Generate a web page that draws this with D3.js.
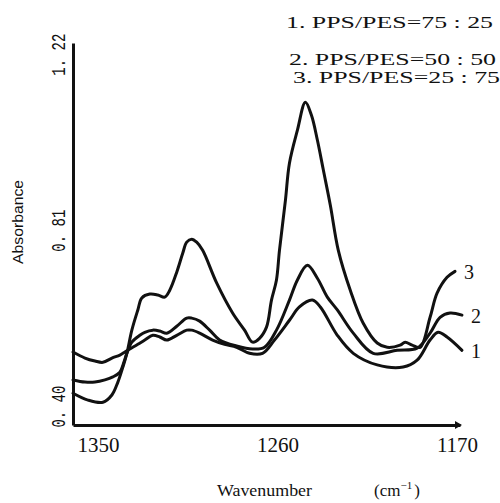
<!DOCTYPE html>
<html>
<head>
<meta charset="utf-8">
<script src="https://cdn.jsdelivr.net/npm/d3@7"></script>
<style>
  body { margin: 0; background: #fff; }
  .label { font-family: "Liberation Serif", serif; fill: #111; }
</style>
</head>
<body>
<script>
// wavenumbers (cm-1) and absorbance
var wn1 = [1362.5,1356.5,1351.5,1347.5,1343,1339,1336.5,1334,1330,1326.5,1322.5,1319,1315.5,1310.5,1305.5,1303,1299,1292.5,1286.5,1280.5,1274,1267.5,1261.5,1254,1249,1242.5,1238.5,1230,1222,1210,1197,1190,1183.5,1179.5,1175,1167.5];
var abs1 = [0.526,0.512,0.505,0.502,0.512,0.519,0.526,0.533,0.544,0.554,0.565,0.561,0.554,0.565,0.577,0.577,0.570,0.554,0.544,0.537,0.523,0.523,0.554,0.600,0.631,0.647,0.631,0.565,0.523,0.496,0.491,0.507,0.554,0.572,0.561,0.530];

var wn2 = [1362.5,1356.5,1351.5,1346.5,1342.5,1339,1337,1335.5,1333,1329,1326.5,1322.5,1319,1315.5,1310.5,1305.5,1303,1299,1294,1289,1280.5,1272.5,1266.5,1260.5,1254,1250,1245,1240,1235,1230,1222,1212,1200,1190,1183.5,1178.5,1173.5,1167.5];
var abs2 = [0.461,0.456,0.456,0.461,0.468,0.479,0.502,0.523,0.549,0.565,0.572,0.577,0.575,0.570,0.586,0.605,0.605,0.598,0.577,0.554,0.540,0.533,0.537,0.577,0.647,0.694,0.728,0.698,0.654,0.624,0.570,0.523,0.530,0.535,0.570,0.607,0.617,0.612];

var wn3 = [1362.5,1355,1347.5,1343,1340,1337.5,1335.5,1333,1330,1328,1324,1320,1316.5,1314,1310.5,1307.5,1305.5,1303,1300.5,1297.5,1290.5,1282.5,1276.5,1272.5,1269,1265.5,1263,1260.5,1259,1256,1254,1250,1246,1243,1240,1237,1233.5,1229.5,1223.5,1217,1210,1205,1198.5,1196,1192.5,1188.5,1183.5,1180,1175,1171];
var abs3 = [0.430,0.414,0.409,0.426,0.456,0.491,0.523,0.577,0.624,0.652,0.661,0.659,0.654,0.670,0.712,0.756,0.782,0.789,0.782,0.763,0.687,0.617,0.577,0.549,0.558,0.584,0.647,0.694,0.763,0.880,0.966,1.043,1.108,1.078,1.020,0.950,0.868,0.763,0.670,0.593,0.547,0.537,0.542,0.549,0.542,0.537,0.607,0.663,0.700,0.714];

var xTicks = [1350, 1260, 1170];
var yTicks = [0.40, 0.81, 1.22];
var curveNames = ["1", "2", "3"];
var legendLines = ["1. PPS/PES=75 : 25", "2. PPS/PES=50 : 50", "3. PPS/PES=25 : 75"];

var width = 500, height = 503;

var svg = d3.select("body")
    .append("svg")
    .attr("width", width)
    .attr("height", height);

// axis extents a little past the tick values, as drawn in the figure
var x = d3.scaleLinear().domain([1362.5, 1168.5]).range([73, 460]);
var y = d3.scaleLinear().domain([0.356, 1.246]).range([425, 43]);

var series = [
    {name: curveNames[0], wn: wn1, abs: abs1},
    {name: curveNames[1], wn: wn2, abs: abs2},
    {name: curveNames[2], wn: wn3, abs: abs3}
];

var line = d3.line()
    .x(function(d){ return x(d[0]); })
    .y(function(d){ return y(d[1]); })
    .curve(d3.curveCatmullRom.alpha(0.5));

svg.append("g")
    .selectAll("path")
    .data(series)
    .enter()
    .append("path")
    .attr("d", function(s){ return line(d3.zip(s.wn, s.abs)); })
    .attr("fill", "none")
    .attr("stroke", "#111")
    .attr("stroke-width", 3)
    .attr("stroke-linejoin", "round")
    .attr("stroke-linecap", "round");

// curve numbers at the right end of each trace
svg.append("g")
    .selectAll("text")
    .data(series)
    .enter()
    .append("text")
    .attr("class", "label")
    .attr("x", function(s){ return x(s.wn[s.wn.length - 1]) + 14; })
    .attr("y", function(s){ return y(s.abs[s.abs.length - 1]) + 8; })
    .attr("text-anchor", "middle")
    .style("font-size", "20px")
    .text(function(s){ return s.name; });

// x axis
var xAxis = svg.append("g")
    .attr("transform", "translate(0,425)")
    .call(d3.axisBottom(x).tickValues(xTicks).tickSize(0).tickSizeOuter(0)
        .tickFormat(d3.format("d")));
xAxis.select(".domain").attr("stroke", "#111").attr("stroke-width", 3);
xAxis.selectAll("text")
    .attr("y", 27)
    .attr("dy", 0)
    .attr("class", "label")
    .style("font-size", "21px");

svg.append("path")
    .attr("d", "M455,421 L462,425 L455,429 Z")
    .attr("fill", "#111");

// y axis, labels turned sideways
var yAxis = svg.append("g")
    .attr("transform", "translate(73,0)")
    .call(d3.axisLeft(y).tickValues(yTicks).tickSize(0).tickSizeOuter(0)
        .tickFormat(function(d){ return d.toFixed(2).replace(".", ". "); }));
yAxis.select(".domain").attr("stroke", "#111").attr("stroke-width", 3);
yAxis.selectAll("text")
    .attr("x", 0)
    .attr("y", -8)
    .attr("dy", 0)
    .attr("transform", "rotate(-90)")
    .attr("text-anchor", "middle")
    .attr("textLength", 42)
    .attr("lengthAdjust", "spacingAndGlyphs")
    .style("font-family", "'Liberation Mono', monospace")
    .style("font-size", "20px")
    .style("fill", "#111");

svg.append("text")
    .attr("transform", "translate(23,222) rotate(-90)")
    .attr("text-anchor", "middle")
    .attr("textLength", 84)
    .attr("lengthAdjust", "spacingAndGlyphs")
    .style("font-family", "'Liberation Sans', sans-serif")
    .style("font-size", "15px")
    .style("fill", "#111")
    .text("Absorbance");

svg.append("text")
    .attr("class", "label")
    .attr("x", 217)
    .attr("y", 496)
    .attr("textLength", 95)
    .attr("lengthAdjust", "spacingAndGlyphs")
    .style("font-size", "17px")
    .text("Wavenumber");

var unit = svg.append("text")
    .attr("class", "label")
    .attr("x", 374)
    .attr("y", 496)
    .style("font-size", "17px");
unit.append("tspan").text("(cm");
unit.append("tspan").attr("dy", -7).style("font-size", "11px").text("\u22121");
unit.append("tspan").attr("dy", 7).attr("dx", 2).text(")");

// legend
var legendY = [28, 65, 83];
var legendX = [286, 289, 293];
svg.append("g")
    .selectAll("text")
    .data(legendLines)
    .enter()
    .append("text")
    .attr("class", "label")
    .attr("x", function(d, i){ return legendX[i]; })
    .attr("y", function(d, i){ return legendY[i]; })
    .attr("textLength", 207)
    .attr("lengthAdjust", "spacingAndGlyphs")
    .style("font-size", "17px")
    .text(function(d){ return d; });
</script>
</body>
</html>
